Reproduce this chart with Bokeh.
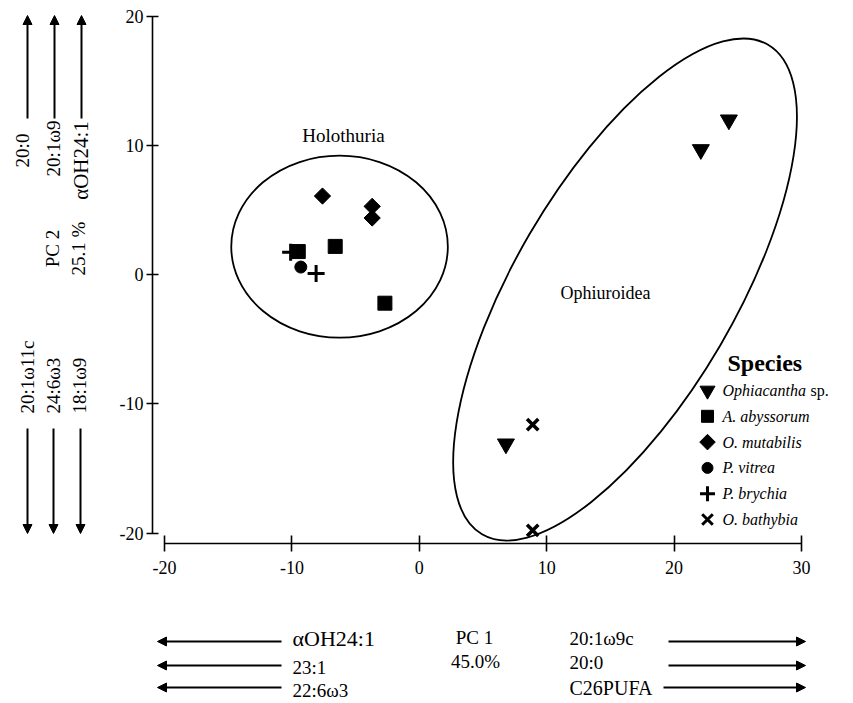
import math
from bokeh.plotting import figure
from bokeh.models import (Range1d, FixedTicker, Label, Arrow, NormalHead, LinearAxis,
                          PrintfTickFormatter)
from bokeh.embed import file_html
from bokeh.resources import INLINE

# ---------------- data ----------------
ophiacantha_x = [24.3, 22.1, 6.8]
ophiacantha_y = [12.0, 9.7, -13.1]
abyssorum_x = [-9.5, -6.6, -2.7]
abyssorum_y = [1.8, 2.2, -2.2]
mutabilis_x = [-7.6, -3.7, -3.7]
mutabilis_y = [6.1, 5.3, 4.4]
vitrea_x = [-9.3]
vitrea_y = [0.6]
brychia_x = [-10.1, -8.1]
brychia_y = [1.75, 0.1]
bathybia_x = [8.9, 8.9]
bathybia_y = [-11.6, -19.8]

x_ticks = [-20, -10, 0, 10, 20, 30]
y_ticks = [-20, -10, 0, 10, 20]

group_names = ["Holothuria", "Ophiuroidea"]
group_cx = [-6.26, 16.15]
group_cy = [2.18, -1.14]
group_w = [17.0, 44.5]
group_h = [14.1, 17.1]
group_angle_deg = [0.0, 59.7]

species_names = ["Ophiacantha", "A. abyssorum", "O. mutabilis", "P. vitrea", "P. brychia", "O. bathybia"]
species_markers = ["inverted_triangle", "square", "diamond", "circle", "cross", "x"]

pc2_up = ["20:0", "20:1\u03c99", "\u03b1OH24:1"]
pc2_down = ["20:1\u03c911c", "24:6\u03c93", "18:1\u03c99"]
pc1_left = ["\u03b1OH24:1", "23:1", "22:6\u03c93"]
pc1_right = ["20:1\u03c99c", "20:0", "C26PUFA"]

# ---------------- layout ----------------
W, H = 853, 703
XPX0, XSC = 418.8, 12.74     # pixel of x=0, pixels per unit
YPX0, YSC = 274.3, 12.91     # pixel of y=0, pixels per unit
X0, X1 = -XPX0 / XSC, (W - XPX0) / XSC
Y0, Y1 = (YPX0 - H) / YSC, YPX0 / YSC
FONT = "Liberation Serif"


def px(xp):
    return (xp - XPX0) / XSC


def py(yp):
    return (YPX0 - yp) / YSC


p = figure(width=W, height=H, x_range=Range1d(X0, X1), y_range=Range1d(Y0, Y1),
           output_backend="svg", toolbar_location=None,
           x_axis_location=None, y_axis_location=None, min_border=0)
p.grid.visible = False
p.outline_line_color = None
p.background_fill_color = "white"

xaxis = LinearAxis(fixed_location=py(543), bounds=(-20, 30), ticker=FixedTicker(ticks=x_ticks))
yaxis = LinearAxis(fixed_location=px(152), bounds=(-20, 20), ticker=FixedTicker(ticks=y_ticks))
for ax in (xaxis, yaxis):
    ax.formatter = PrintfTickFormatter(format="%d")
    ax.axis_line_color = "black"
    ax.axis_line_width = 1.6
    ax.major_tick_line_color = "black"
    ax.major_tick_line_width = 1.6
    ax.minor_tick_line_color = None
    ax.major_label_text_font = FONT
    ax.major_label_text_font_size = "18px"
    ax.major_label_text_color = "black"
xaxis.major_tick_in = 8
xaxis.major_tick_out = 8
xaxis.major_label_standoff = 9
yaxis.major_tick_in = 6
yaxis.major_tick_out = 6
yaxis.major_label_standoff = 3
p.add_layout(xaxis, "below")
p.add_layout(yaxis, "left")

# group ellipses
p.ellipse(x=group_cx, y=group_cy, width=group_w, height=group_h,
          angle=[math.radians(a) for a in group_angle_deg],
          fill_color=None, line_color="black", line_width=1.8)

# points
p.scatter(brychia_x, brychia_y, marker="cross", size=17, line_color="black", line_width=3)
p.scatter(abyssorum_x, abyssorum_y, marker="square", size=14, color="black")
p.scatter(vitrea_x, vitrea_y, marker="circle", size=12, color="black")
p.scatter(mutabilis_x, mutabilis_y, marker="square", angle=math.pi / 4, size=11.5, color="black")
p.scatter(ophiacantha_x, ophiacantha_y, marker="inverted_triangle", size=17, color="black")
p.scatter(bathybia_x, bathybia_y, marker="x", size=16, line_color="black", line_width=3.5)


def label(text, x, y, size="19px", align="center", baseline="middle", angle=0, style="normal"):
    p.add_layout(Label(x=px(x), y=py(y), text=text, text_font=FONT, text_font_size=size,
                       text_align=align, text_baseline=baseline, angle=angle, angle_units="deg",
                       text_font_style=style, text_color="black"))


def arrow(x0, y0, x1, y1):
    p.add_layout(Arrow(x_start=px(x0), y_start=py(y0), x_end=px(x1), y_end=py(y1),
                       line_width=2, line_color="black",
                       end=NormalHead(size=9, fill_color="black", line_color="black", line_width=1)))


# hand-built legend (symbols as in the plot)
LEG_X, LEG_Y, LEG_STEP = 707, 390, 25.8
label("Species", 727, 362, size="24px", align="left", style="bold")
leg_sizes = [15, 12, 11, 11, 15, 15]
for i, (name, mk) in enumerate(zip(species_names, species_markers)):
    yy = LEG_Y + i * LEG_STEP
    kw = dict(color="black")
    ang = 0.0
    if mk == "diamond":
        mk, ang = "square", math.pi / 4
    if mk in ("cross", "x"):
        kw = dict(line_color="black", line_width=3)
    p.scatter([px(LEG_X)], [py(yy)], marker=mk, size=leg_sizes[i], angle=ang, **kw)
    label(name, 722, yy, size="16px", align="left", style="italic")
label("sp.", 810, LEG_Y, size="16px", align="left")

# group names
label(group_names[0], 343, 135, size="19px")
label(group_names[1], 560, 292, size="18px", align="left")

# PC2 side (rotated)
for t, x, y in zip(pc2_up, [22, 53, 80], [150, 148, 160]):
    label(t, x, y, size="21px" if t.startswith("\u03b1") else "19px", angle=90)
for x in [27, 54, 81]:
    arrow(x, 118, x, 15)
for t, x in zip(pc2_down, [27, 53, 79]):
    label(t, x, 413, align="left", angle=90)
for x in [27, 53, 80]:
    arrow(x, 428, x, 533)
label("PC 2", 52, 248, angle=90)
label("25.1 %", 78, 248, angle=90)

# PC1 side
rows = [641, 665, 687]
for t, y, ty in zip(pc1_left, rows, [638, 667, 690]):
    label(t, 292, ty, size="22px" if t.startswith("\u03b1") else "19px", align="left")
    arrow(281, y, 157, y)
label("PC 1", 474, 637)
label("45.0%", 475, 661)
for t, y, ty, xs in zip(pc1_right, rows, [638, 662, 687], [668, 668, 663]):
    label(t, 569, ty, size="20px" if t.startswith("C") else "19px", align="left")
    arrow(xs, y, 805, y)

open("out.html", "w").write(file_html(p, INLINE))
